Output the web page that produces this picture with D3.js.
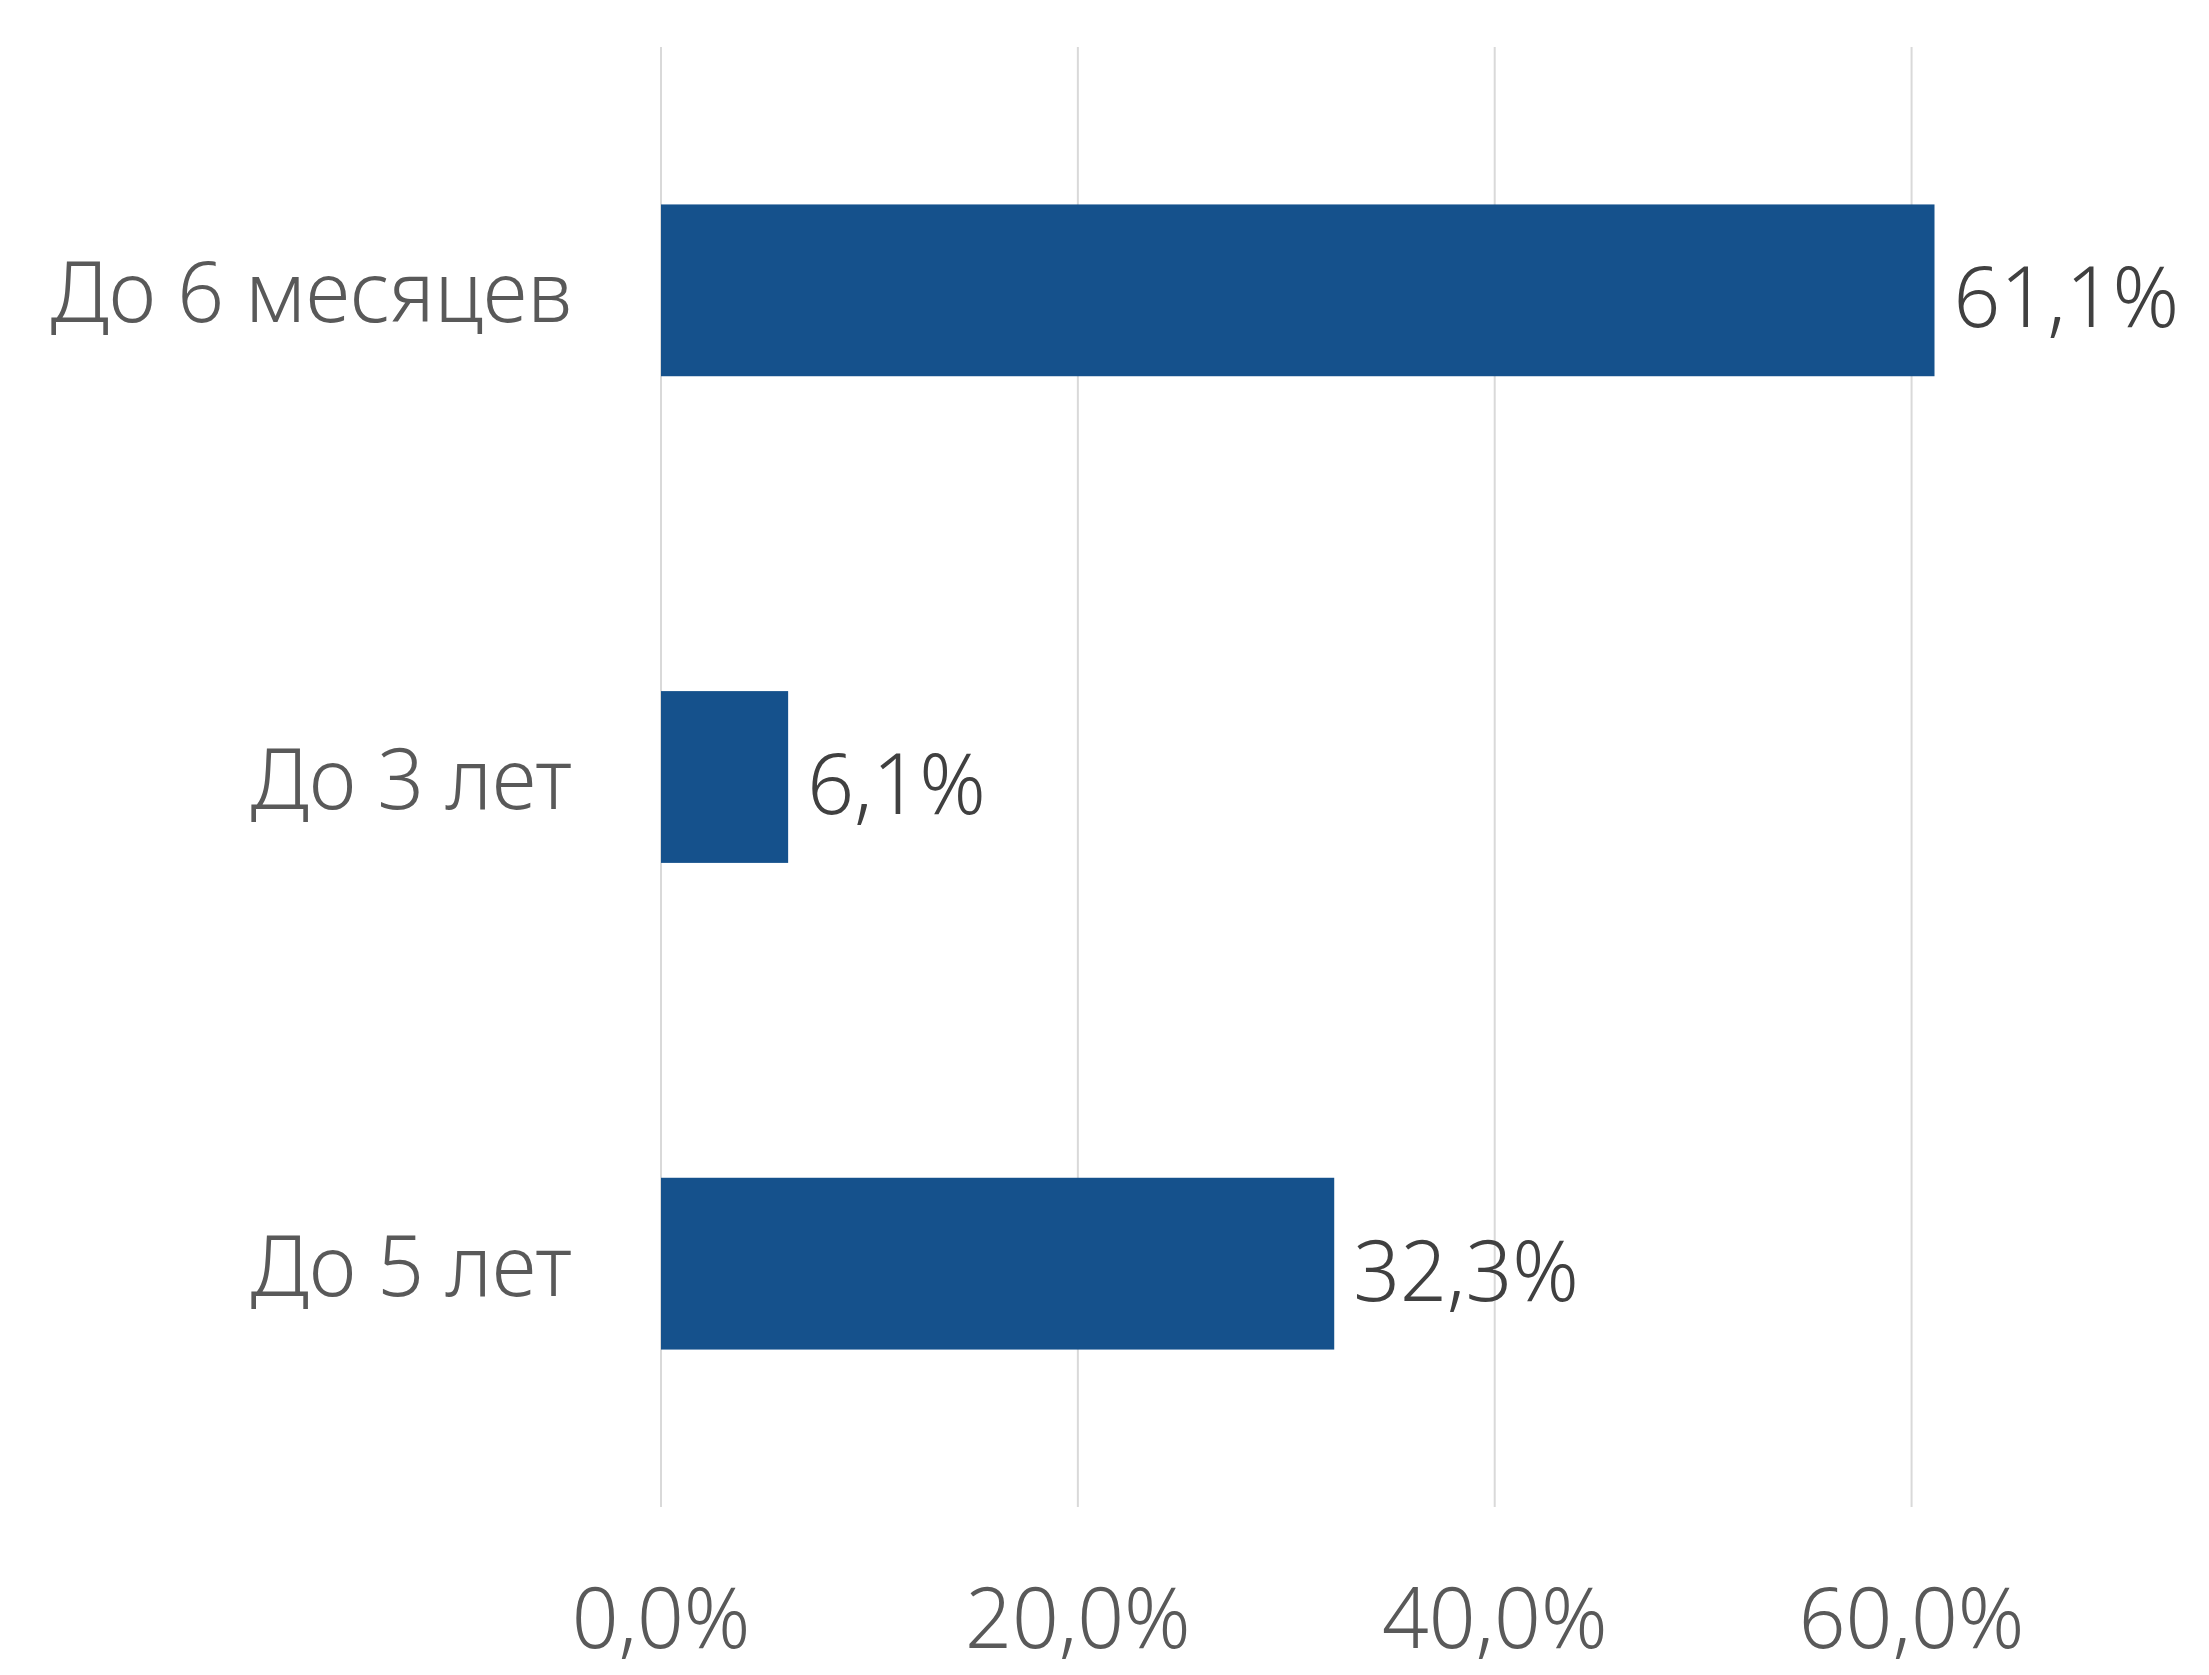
<!DOCTYPE html>
<html>
<head>
<meta charset="utf-8">
<script src="https://cdn.jsdelivr.net/npm/d3@7"></script>
<style>
  body { margin: 0; background: #fff; }
  text { font-family: "Noto Sans", "Open Sans", sans-serif; font-weight: 300; font-stretch: normal; }
</style>
</head>
<body>
<svg></svg>
<script>
var svgWidth = 2209, svgHeight = 1675;

// data
var categories = ["До 6 месяцев", "До 3 лет", "До 5 лет"];
var values = [61.1, 6.1, 32.3];
var tickValues = [0, 20, 40, 60];

// text in the picture is a touch taller than normal
var stretchY = 1.04;

var margin = {top: 47, right: 89, bottom: 168, left: 661};
var plotW = svgWidth - margin.left - margin.right,
    plotH = svgHeight - margin.top - margin.bottom;

var svg = d3.select("svg")
            .attr("width", svgWidth)
            .attr("height", svgHeight)
            .append("g")
            .attr("transform", "translate(" + margin.left + "," + margin.top + ")");

var x = d3.scaleLinear().domain([0, 70]).range([0, plotW]);
var y = d3.scaleBand().domain(categories).range([0, plotH]).paddingInner(0.647).paddingOuter(0.3235);

var fmt = function(v) { return v.toFixed(1).replace(".", ",") + "%"; };

// gridlines
svg.selectAll(".grid")
    .data(tickValues)
    .enter().append("line")
        .attr("class", "grid")
        .attr("x1", function(d) { return x(d); })
        .attr("x2", function(d) { return x(d); })
        .attr("y1", 0)
        .attr("y2", plotH)
        .style("stroke", "#d9d9d9")
        .style("stroke-width", 2);

// bars
svg.selectAll(".bar")
    .data(values)
    .enter().append("rect")
        .attr("class", "bar")
        .attr("x", x(0))
        .attr("y", function(d, i) { return y(categories[i]); })
        .attr("width", function(d) { return x(d) - x(0); })
        .attr("height", y.bandwidth())
        .attr("fill", "#15518c");

// value labels
svg.selectAll(".val")
    .data(values)
    .enter().append("text")
        .attr("class", "val")
        .attr("transform", function(d, i) {
            return "translate(" + (x(d) + 19) + "," + (y(categories[i]) + y.bandwidth() / 2 + 37) + ") scale(1," + stretchY + ")";
        })
        .style("font-size", "82px")
        .style("fill", "#404040")
        .text(fmt);

// category labels
svg.selectAll(".cat")
    .data(categories)
    .enter().append("text")
        .attr("class", "cat")
        .attr("text-anchor", "end")
        .attr("transform", function(d) {
            return "translate(" + (-89) + "," + (y(d) + y.bandwidth() / 2 + 32) + ") scale(1," + stretchY + ")";
        })
        .style("font-size", "82px")
        .style("fill", "#595959")
        .text(function(d) { return d; });

// x tick labels
svg.selectAll(".tick-label")
    .data(tickValues)
    .enter().append("text")
        .attr("class", "tick-label")
        .attr("text-anchor", "middle")
        .attr("transform", function(d) {
            return "translate(" + x(d) + "," + (plotH + 141) + ") scale(1," + stretchY + ")";
        })
        .style("font-size", "82px")
        .style("fill", "#595959")
        .text(fmt);
</script>
</body>
</html>
